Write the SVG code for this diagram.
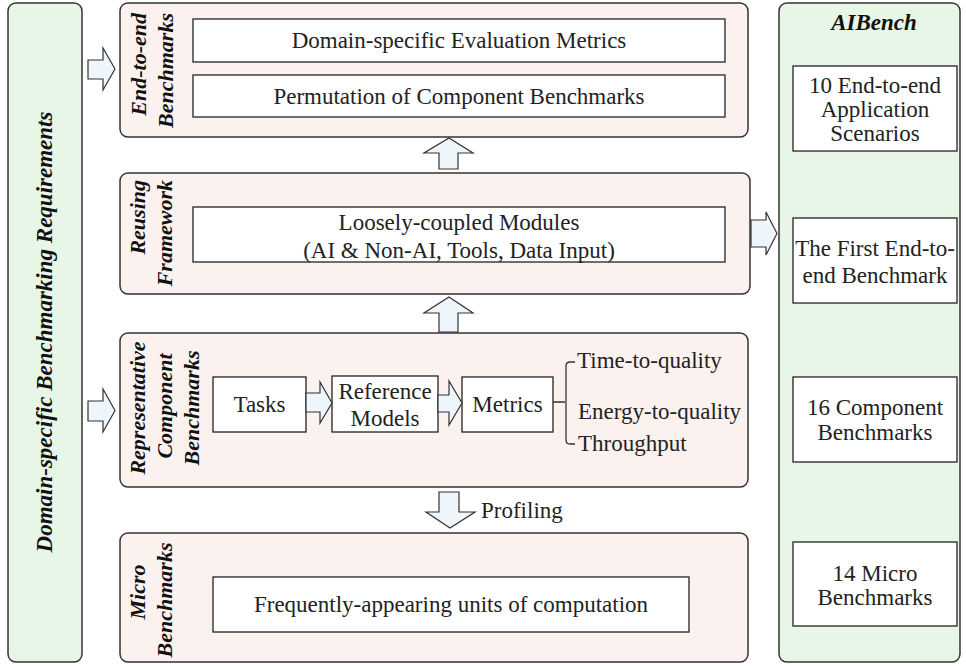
<svg xmlns="http://www.w3.org/2000/svg" width="966" height="666" viewBox="0 0 966 666" font-family="Liberation Serif, Times New Roman, serif">
<style>
.panel{fill:#fbf1ef;stroke:#333;stroke-width:1.5}
.green{fill:#e8f6e8;stroke:#333;stroke-width:1.5}
.box{fill:#fff;stroke:#222;stroke-width:1.3}
.arrow{fill:#eef6fc;stroke:#333;stroke-width:1.2;stroke-linejoin:miter}
.t{font-size:23px;fill:#222;text-anchor:middle}
.ts{font-size:23px;fill:#222}
.lbl{font-size:22px;font-weight:bold;font-style:italic;fill:#111}
.line{fill:none;stroke:#333;stroke-width:1.3}
</style>
<rect width="966" height="666" fill="#fff"/>

<g id="requirements">
<rect class="green" x="8" y="3" width="74" height="659" rx="8"/>
<text class="lbl" font-family="Liberation Serif" transform="translate(52,332) rotate(-90)" text-anchor="middle" style="font-size:23px">Domain-specific Benchmarking Requirements</text>
</g>

<g id="end-to-end">
<rect class="panel" x="120" y="3" width="628" height="134" rx="8"/>
<text class="lbl" transform="translate(146,13) rotate(-90)" text-anchor="end">End-to-end</text>
<text class="lbl" transform="translate(173,13) rotate(-90)" text-anchor="end">Benchmarks</text>
<rect class="box" x="193" y="19" width="532" height="43"/>
<text class="t" font-family="Liberation Serif" x="459" y="48">Domain-specific Evaluation Metrics</text>
<rect class="box" x="193" y="75" width="532" height="42"/>
<text class="t" x="459" y="104">Permutation of Component Benchmarks</text>
</g>

<g id="reusing">
<rect class="panel" x="120" y="173" width="630" height="121" rx="8"/>
<text class="lbl" transform="translate(145,180) rotate(-90)" text-anchor="end">Reusing</text>
<text class="lbl" transform="translate(172,180) rotate(-90)" text-anchor="end">Framework</text>
<rect class="box" x="193" y="207" width="532" height="55"/>
<text class="t" x="459" y="230">Loosely-coupled Modules</text>
<text class="t" x="459" y="258">(AI &amp; Non-AI, Tools, Data Input)</text>
</g>

<g id="component">
<rect class="panel" x="120" y="333" width="628" height="154" rx="8"/>
<text class="lbl" transform="translate(145,408) rotate(-90)" text-anchor="middle">Representative</text>
<text class="lbl" transform="translate(172,406) rotate(-90)" text-anchor="middle">Component</text>
<text class="lbl" transform="translate(199,408) rotate(-90)" text-anchor="middle">Benchmarks</text>
<g id="tasks">
<rect class="box" x="213" y="377" width="93" height="55"/>
<text class="t" x="259.5" y="412">Tasks</text>
</g>
<g id="reference-models">
<rect class="box" x="332" y="376" width="106" height="56"/>
<text class="t" x="385" y="399">Reference</text>
<text class="t" x="385" y="426">Models</text>
</g>
<g id="metrics">
<rect class="box" x="462" y="377" width="91" height="55"/>
<text class="t" x="507.5" y="412">Metrics</text>
</g>
<g id="metric-list">
<path class="line" d="M553,402 H565 M575,362 H570 Q566,362 566,366 V440 Q566,444 570,444 H575"/>
<text class="ts" x="577" y="368">Time-to-quality</text>
<text class="ts" x="578" y="419">Energy-to-quality</text>
<text class="ts" x="578" y="451">Throughput</text>
</g>
</g>

<g id="micro">
<rect class="panel" x="120" y="533" width="628" height="129" rx="8"/>
<text class="lbl" transform="translate(145,592) rotate(-90)" text-anchor="middle">Micro</text>
<text class="lbl" transform="translate(172,600) rotate(-90)" text-anchor="middle">Benchmarks</text>
<rect class="box" x="213" y="577" width="476" height="55"/>
<text class="t" x="451" y="612">Frequently-appearing units of computation</text>
</g>

<g id="aibench">
<rect class="green" x="779" y="3" width="181" height="659" rx="8"/>
<text class="lbl" x="874" y="30" text-anchor="middle" style="font-size:23px">AIBench</text>
<rect class="box" x="793" y="66" width="164" height="85"/>
<text class="t" x="875" y="93">10 End-to-end</text>
<text class="t" x="875" y="117">Application</text>
<text class="t" x="875" y="141">Scenarios</text>
<rect class="box" x="793" y="218" width="164" height="85"/>
<text class="t" x="875" y="256">The First End-to-</text>
<text class="t" x="875" y="283">end Benchmark</text>
<rect class="box" x="793" y="377" width="164" height="85"/>
<text class="t" x="875" y="415">16 Component</text>
<text class="t" x="875" y="440">Benchmarks</text>
<rect class="box" x="793" y="542" width="164" height="84"/>
<text class="t" x="875" y="581">14 Micro</text>
<text class="t" x="875" y="605">Benchmarks</text>
</g>

<g id="connectors">
<polygon class="arrow" points="88,60 103,60 103,48 115,69 103,90 103,79 88,79"/>
<polygon class="arrow" points="88,401 103,401 103,389 115,410.5 103,432 103,421 88,421"/>
<polygon class="arrow" points="751,220 766,220 766,212 777,233.5 766,255 766,247 751,247"/>
<polygon class="arrow" points="306,393 320,393 320,382 332,403 320,423 320,412 306,412"/>
<polygon class="arrow" points="438,395 449,395 449,381 462,403 449,425 449,412 438,412"/>
<polygon class="arrow" points="439,169 439,153 424,153 449,138 473,153 458,153 458,169"/>
<polygon class="arrow" points="439,332 439,313 424,313 449,297 473,313 458,313 458,332"/>
<polygon class="arrow" points="439,492 459,492 459,512 475,512 450,528 426,512 439,512"/>
<text class="ts" x="481" y="518">Profiling</text>
</g>
</svg>
